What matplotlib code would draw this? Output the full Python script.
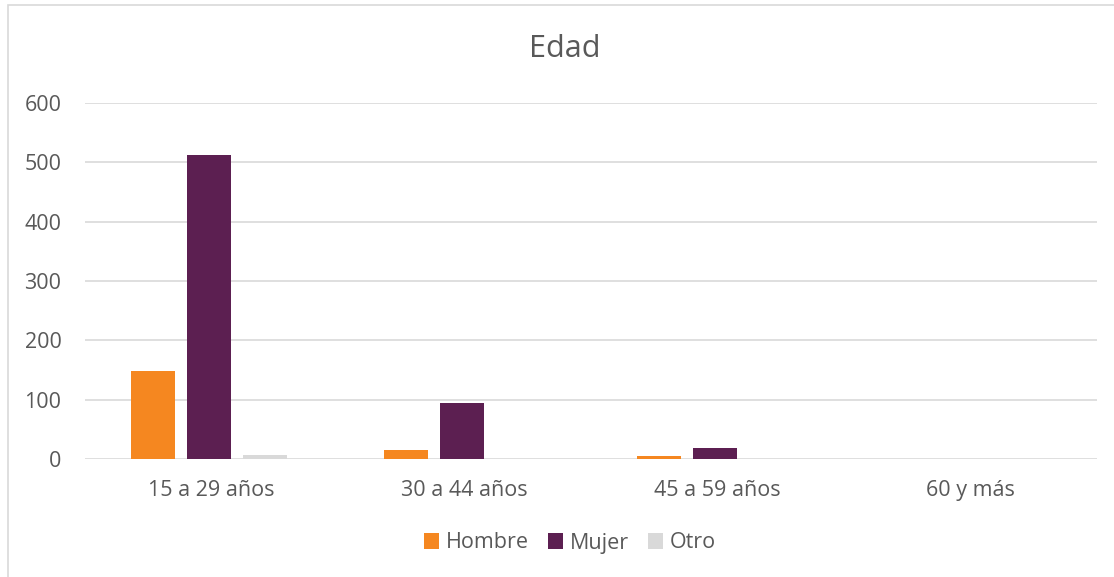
import numpy as np
import matplotlib.pyplot as plt
from matplotlib.patches import Rectangle

categorias = ["15 a 29 años", "30 a 44 años", "45 a 59 años", "60 y más"]
hombre = [148, 16, 5, 0]
mujer = [512, 94, 18, 0]
otro = [6, 0, 0, 0]
series = ["Hombre", "Mujer", "Otro"]
colores = ["#F58720", "#5C1F51", "#D9D9D9"]

plt.rcParams["font.family"] = ["Open Sans", "DejaVu Sans"]
gris = "#595959"

fig = plt.figure(figsize=(11.14, 5.77), dpi=100)
ax = fig.add_axes([85 / 1114, 1 - 459 / 577, 1012 / 1114, 356 / 577])

# marco del gráfico
fig.patches.append(Rectangle((8 / 1114, -0.05), 1.2, 1 - 5 / 577 + 0.05,
                             transform=fig.transFigure, fill=False,
                             edgecolor="#D9D9D9", linewidth=1.2))

x = np.arange(len(categorias))
ancho = 0.174
paso = 0.221
for i, (vals, nombre, color) in enumerate(zip([hombre, mujer, otro], series, colores)):
    ax.bar(x + (i - 1) * paso - 0.01, vals, ancho, color=color, label=nombre, zorder=3)

ax.set_xlim(-0.5, len(categorias) - 0.5)
ax.set_ylim(0, 600)
ax.set_yticks(range(0, 601, 100))
ax.set_xticks(x)
ax.set_xticklabels(categorias)
ax.grid(axis="y", color="#D9D9D9", linewidth=1.2, zorder=0)
for s in ax.spines.values():
    s.set_visible(False)
ax.tick_params(length=0, colors=gris, labelsize=15.5)
ax.tick_params(axis="y", pad=17)
ax.tick_params(axis="x", pad=15)

fig.text(565 / 1114, 1 - 49 / 577, "Edad", ha="center", va="center",
         fontsize=22, color=gris)

ax.legend(loc="center", bbox_to_anchor=(570 / 1114, 1 - 543 / 577),
          bbox_transform=fig.transFigure, ncol=3, frameon=False,
          fontsize=15.5, labelcolor=gris, handlelength=0.7, handleheight=0.7,
          handletextpad=0.3, columnspacing=0.9)

fig.savefig("out.png", dpi=100)
